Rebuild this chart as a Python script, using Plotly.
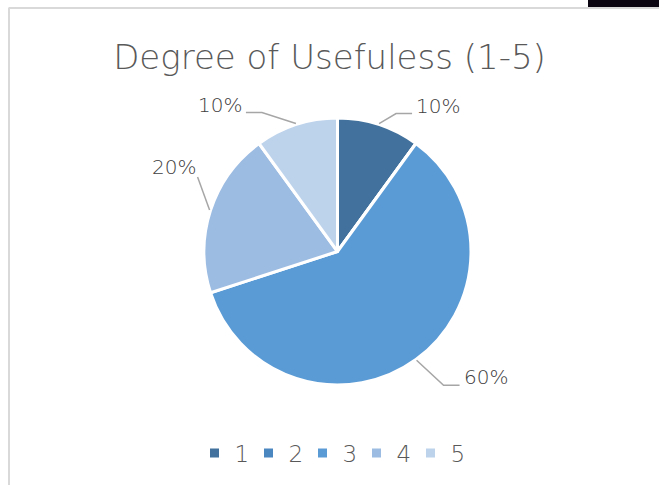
import math
import plotly.graph_objects as go

categories = ["1", "2", "3", "4", "5"]
values = [10, 0, 60, 20, 10]
colors = ["#41719C", "#4A86C0", "#5B9BD5", "#9DBCE2", "#BDD3EC"]
title_text = "Degree of Usefuless (1-5)"

# layout: pixel offset of each data label from its slice edge (Excel-style manual placement)
label_offsets = [(59, -18), None, (69, 17), (-36, -43), (-76, -19)]

W, H = 659, 485
cx, cy, r = 337.5, 251.5, 133.5


def px(x):
    return x / W


def py(y):
    return 1 - y / H


fig = go.Figure()
fig.add_trace(go.Pie(
    labels=categories,
    values=values,
    sort=False,
    direction="clockwise",
    rotation=0,
    marker=dict(colors=colors, line=dict(color="white", width=3)),
    textinfo="none",
    domain=dict(x=[px(cx - r), px(cx + r)], y=[py(cy + r), py(cy - r)]),
    showlegend=True,
    automargin=False,
    hoverinfo="label+percent",
))

total = sum(values)
annotations = []
shapes = []
cum = 0
label_font = dict(family="DejaVu Sans", size=20, color="#404040", weight=300)
for v, off in zip(values, label_offsets):
    start = cum
    cum += v
    if v <= 0 or off is None:
        continue
    theta = math.radians((start + v / 2) / total * 360)
    ex = cx + (r + 1) * math.sin(theta)
    ey = cy - (r + 1) * math.cos(theta)
    lx, ly = ex + off[0], ey + off[1]
    pct = f"{round(v / total * 100)}%"
    annotations.append(dict(x=px(lx), y=py(ly), xref="paper", yref="paper", text=pct,
                            showarrow=False, font=label_font, xanchor="center", yanchor="middle"))
    side = 1 if math.sin(theta) > 0 else -1
    endx, endy = lx - side * 26, ly + 8
    elbx = endx - side * 16
    if side * (elbx - ex) > 0:
        path = f"M {px(ex)} {py(ey)} L {px(elbx)} {py(endy)} L {px(endx)} {py(endy)}"
    else:
        endx, endy = lx - side * 24, ly + 10
        path = f"M {px(ex)} {py(ey)} L {px(endx)} {py(endy)}"
    shapes.append(dict(type="path", xref="paper", yref="paper", path=path,
                       line=dict(color="#A6A6A6", width=1.5)))

shapes += [
    dict(type="line", xref="paper", yref="paper", x0=px(8.5), x1=1, y0=py(8), y1=py(8),
         line=dict(color="#D9D9D9", width=2)),
    dict(type="line", xref="paper", yref="paper", x0=px(9), x1=px(9), y0=0, y1=py(8),
         line=dict(color="#D9D9D9", width=2)),
    dict(type="rect", xref="paper", yref="paper", x0=px(588), x1=1, y0=py(7), y1=1,
         fillcolor="#0a0510", line=dict(width=0)),
]

fig.update_layout(
    width=W, height=H,
    margin=dict(l=0, r=0, t=0, b=0),
    paper_bgcolor="white",
    title=dict(text=title_text, x=0.5, xanchor="center", y=py(57), yanchor="middle",
               font=dict(family="DejaVu Sans", size=34, color="#595959", weight=300)),
    legend=dict(orientation="h", x=0.5, xanchor="center", y=py(453), yanchor="middle",
                font=dict(family="DejaVu Sans", size=23, color="#595959", weight=300),
                itemwidth=30, traceorder="normal", entrywidth=9),
    annotations=annotations,
    shapes=shapes,
)

fig.write_html("out.html", config={"displayModeBar": False},
               post_script="document.body.style.margin='0';document.body.style.overflow='hidden';")
